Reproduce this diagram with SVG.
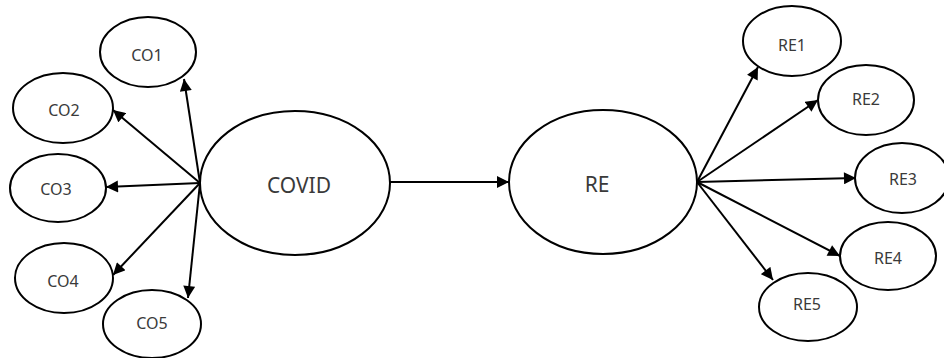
<svg xmlns="http://www.w3.org/2000/svg" width="944" height="358" viewBox="0 0 944 358">
<defs>
<style>
.n ellipse{fill:#fff;stroke:#000;stroke-width:2}
.n text{font-family:"Noto Sans","Liberation Sans",sans-serif;fill:#3a3a3a;text-anchor:middle;dominant-baseline:central;font-size:16px}
.big text{font-size:21px}
.c line{stroke:#000;stroke-width:2;marker-end:url(#ah)}
</style>
<marker id="ah" viewBox="0 0 10 10" refX="10" refY="5" markerWidth="6.5" markerHeight="6" orient="auto" markerUnits="strokeWidth">
<path d="M0,0 L10,5 L0,10 z" fill="#000"/>
</marker>
</defs>
<rect width="944" height="358" fill="#fff"/>
<g id="connectors" class="c">
<line x1="200" y1="183" x2="184" y2="79"/>
<line x1="200" y1="183" x2="113" y2="110"/>
<line x1="200" y1="183" x2="106" y2="187"/>
<line x1="200" y1="183" x2="113" y2="275"/>
<line x1="200" y1="183" x2="188" y2="298"/>
<line x1="390" y1="182" x2="509" y2="182"/>
<line x1="697" y1="182" x2="758" y2="67"/>
<line x1="697" y1="182" x2="818" y2="100"/>
<line x1="697" y1="182" x2="856" y2="178"/>
<line x1="697" y1="182" x2="840" y2="256"/>
<line x1="697" y1="182" x2="773" y2="280"/>
</g>
<g id="CO1" class="n"><ellipse cx="148" cy="52" rx="48" ry="35"/><text x="147" y="55">CO1</text></g>
<g id="CO2" class="n"><ellipse cx="63" cy="108" rx="50" ry="35"/><text x="64" y="110">CO2</text></g>
<g id="CO3" class="n"><ellipse cx="58" cy="188" rx="48" ry="34"/><text x="56" y="189">CO3</text></g>
<g id="CO4" class="n"><ellipse cx="64" cy="278" rx="49" ry="35"/><text x="63" y="281">CO4</text></g>
<g id="CO5" class="n"><ellipse cx="152" cy="324" rx="49" ry="34"/><text x="152" y="323">CO5</text></g>
<g id="COVID" class="n big"><ellipse cx="295" cy="183" rx="95" ry="72"/><text x="299" y="185">COVID</text></g>
<g id="RE" class="n big"><ellipse cx="603" cy="182" rx="94" ry="72"/><text x="597" y="184">RE</text></g>
<g id="RE1" class="n"><ellipse cx="792" cy="41" rx="49" ry="35"/><text x="792" y="45">RE1</text></g>
<g id="RE2" class="n"><ellipse cx="866" cy="100" rx="48" ry="35"/><text x="866" y="99">RE2</text></g>
<g id="RE3" class="n"><ellipse cx="902" cy="178" rx="47" ry="35"/><text x="903" y="179">RE3</text></g>
<g id="RE4" class="n"><ellipse cx="888" cy="256" rx="48" ry="34"/><text x="888" y="258">RE4</text></g>
<g id="RE5" class="n"><ellipse cx="808" cy="307" rx="49" ry="34"/><text x="807" y="304">RE5</text></g>
</svg>
